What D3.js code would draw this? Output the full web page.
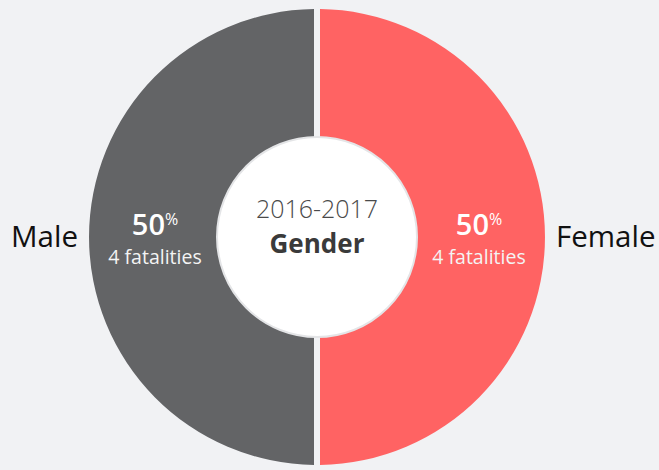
<!DOCTYPE html>
<html><head><meta charset="utf-8">
<script src="https://cdn.jsdelivr.net/npm/d3@7"></script>
<style>
html,body{margin:0;padding:0;background:#f1f2f4;}
svg{display:block;font-family:"Open Sans",sans-serif;}
</style></head>
<body>
<svg id="chart" width="659" height="470"></svg>
<script>
const categories = ["Male", "Female"];
const fatalities = [4, 4];
const colors = ["#636466", "#ff6363"];
const titleYear = "2016-2017";
const titleMain = "Gender";

const svg = d3.select("#chart");
const cx = 317, cy = 237, R = 228, r = 100;
const g = svg.append("g").attr("transform", `translate(${cx},${cy})`);

const total = d3.sum(fatalities);
const data = categories.map((c, i) => ({cat: c, value: fatalities[i], color: colors[i]}));

// Female on right starting at top (clockwise), male on left
const pie = d3.pie().value(d => d.value).sort(null).startAngle(0).endAngle(2 * Math.PI);
const ordered = [data[1], data[0]];
const arcs = pie(ordered);

const arc = d3.arc().innerRadius(r - 4).outerRadius(R).padAngle(6 / R).padRadius(R);

g.selectAll("path.slice").data(arcs).join("path")
  .attr("class", "slice")
  .attr("d", arc)
  .attr("fill", d => d.data.color);

g.append("circle").attr("r", r).attr("fill", "#ffffff").attr("stroke", "#e4e5e7").attr("stroke-width", 2);

g.append("text").attr("text-anchor", "middle").attr("y", -19)
  .attr("font-size", 25).attr("font-weight", 300).attr("fill", "#4a4a4a").text(titleYear);
g.append("text").attr("text-anchor", "middle").attr("y", 16)
  .attr("font-size", 26).attr("font-weight", 700).attr("fill", "#3a3a3a").text(titleMain);

const labelArc = d3.arc().innerRadius(162).outerRadius(162);
arcs.forEach(a => {
  const [lx] = labelArc.centroid(a);
  const pct = Math.round(a.data.value / total * 100);
  const t = g.append("text").attr("text-anchor", "middle").attr("x", lx).attr("y", -2).attr("fill", "#fff");
  t.append("tspan").attr("font-size", 29).attr("font-weight", 600).text(pct);
  t.append("tspan").attr("font-size", 16).attr("dy", -10).text("%");
  g.append("text").attr("text-anchor", "middle").attr("x", lx).attr("y", 27)
    .attr("font-size", 19.5).attr("fill", "#f4f4f4").text(a.data.value + " fatalities");
  const side = lx < 0 ? -1 : 1;
  g.append("text").attr("text-anchor", side < 0 ? "end" : "start")
    .attr("x", side * (R + 11)).attr("y", 10)
    .attr("font-size", 29.5).attr("fill", "#111").text(a.data.cat);
});
</script>
</body></html>
